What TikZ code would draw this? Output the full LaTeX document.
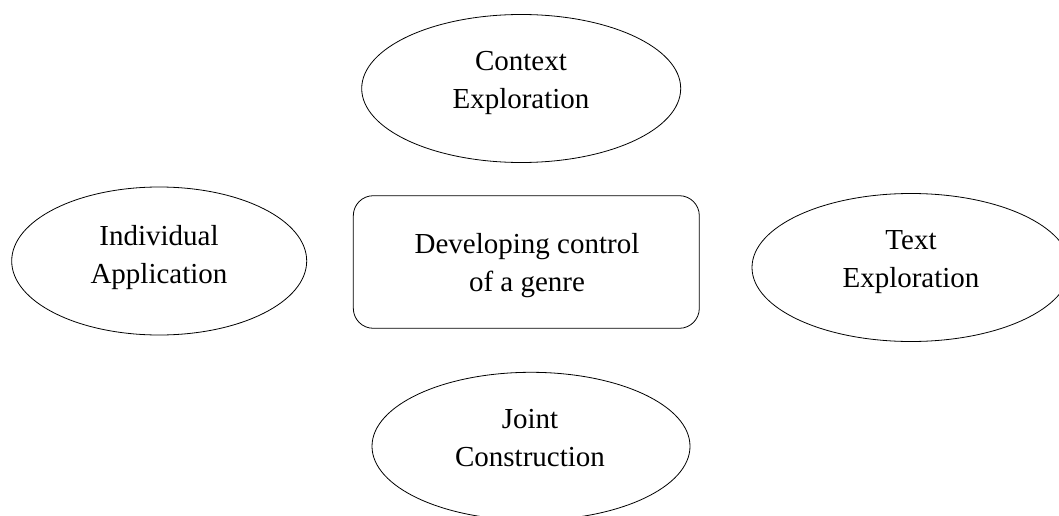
\documentclass[tikz,border=0pt]{standalone}
\usepackage{fontspec}
\setmainfont{Liberation Serif}
\usetikzlibrary{shapes.geometric}
\tikzset{
  oval/.style={draw=black, line width=0.8pt, ellipse, inner sep=0pt, minimum height=148pt},
  hubbox/.style={draw=black, line width=0.8pt, rectangle, rounded corners=20pt, inner sep=0pt, minimum width=346pt, minimum height=132.6pt},
  lbl/.style={align=center, inner sep=0pt, font=\fontsize{29}{38.5}\selectfont}
}
\begin{document}
\begin{tikzpicture}[x=1pt, y=-1pt]
\useasboundingbox (0,0) rectangle (1059,516);
\clip (0,0) rectangle (1059,516);
% shapes
\node[oval, minimum width=319pt] (ctx) at (521.2,88.5) {};
\node[oval, minimum width=295pt] (ind) at (159.2,261) {};
\node[oval, minimum width=318pt] (txt) at (911,267.5) {};
\node[oval, minimum width=318pt] (jnt) at (531,446.3) {};
\node[hubbox] (hub) at (526.3,262) {};
% labels
\node[lbl] (ctxl) at (521,81.7) {\strut Context\\\strut Exploration};
\node[lbl] (indl) at (159,256.7) {\strut Individual\\\strut Application};
\node[lbl] (txtl) at (911,261) {\strut Text\\\strut Exploration};
\node[lbl] (jntl) at (530,440) {\strut Joint\\\strut Construction};
\node[lbl] (hubl) at (527,264.7) {\strut Developing control\\\strut of a genre};
\end{tikzpicture}
\end{document}
